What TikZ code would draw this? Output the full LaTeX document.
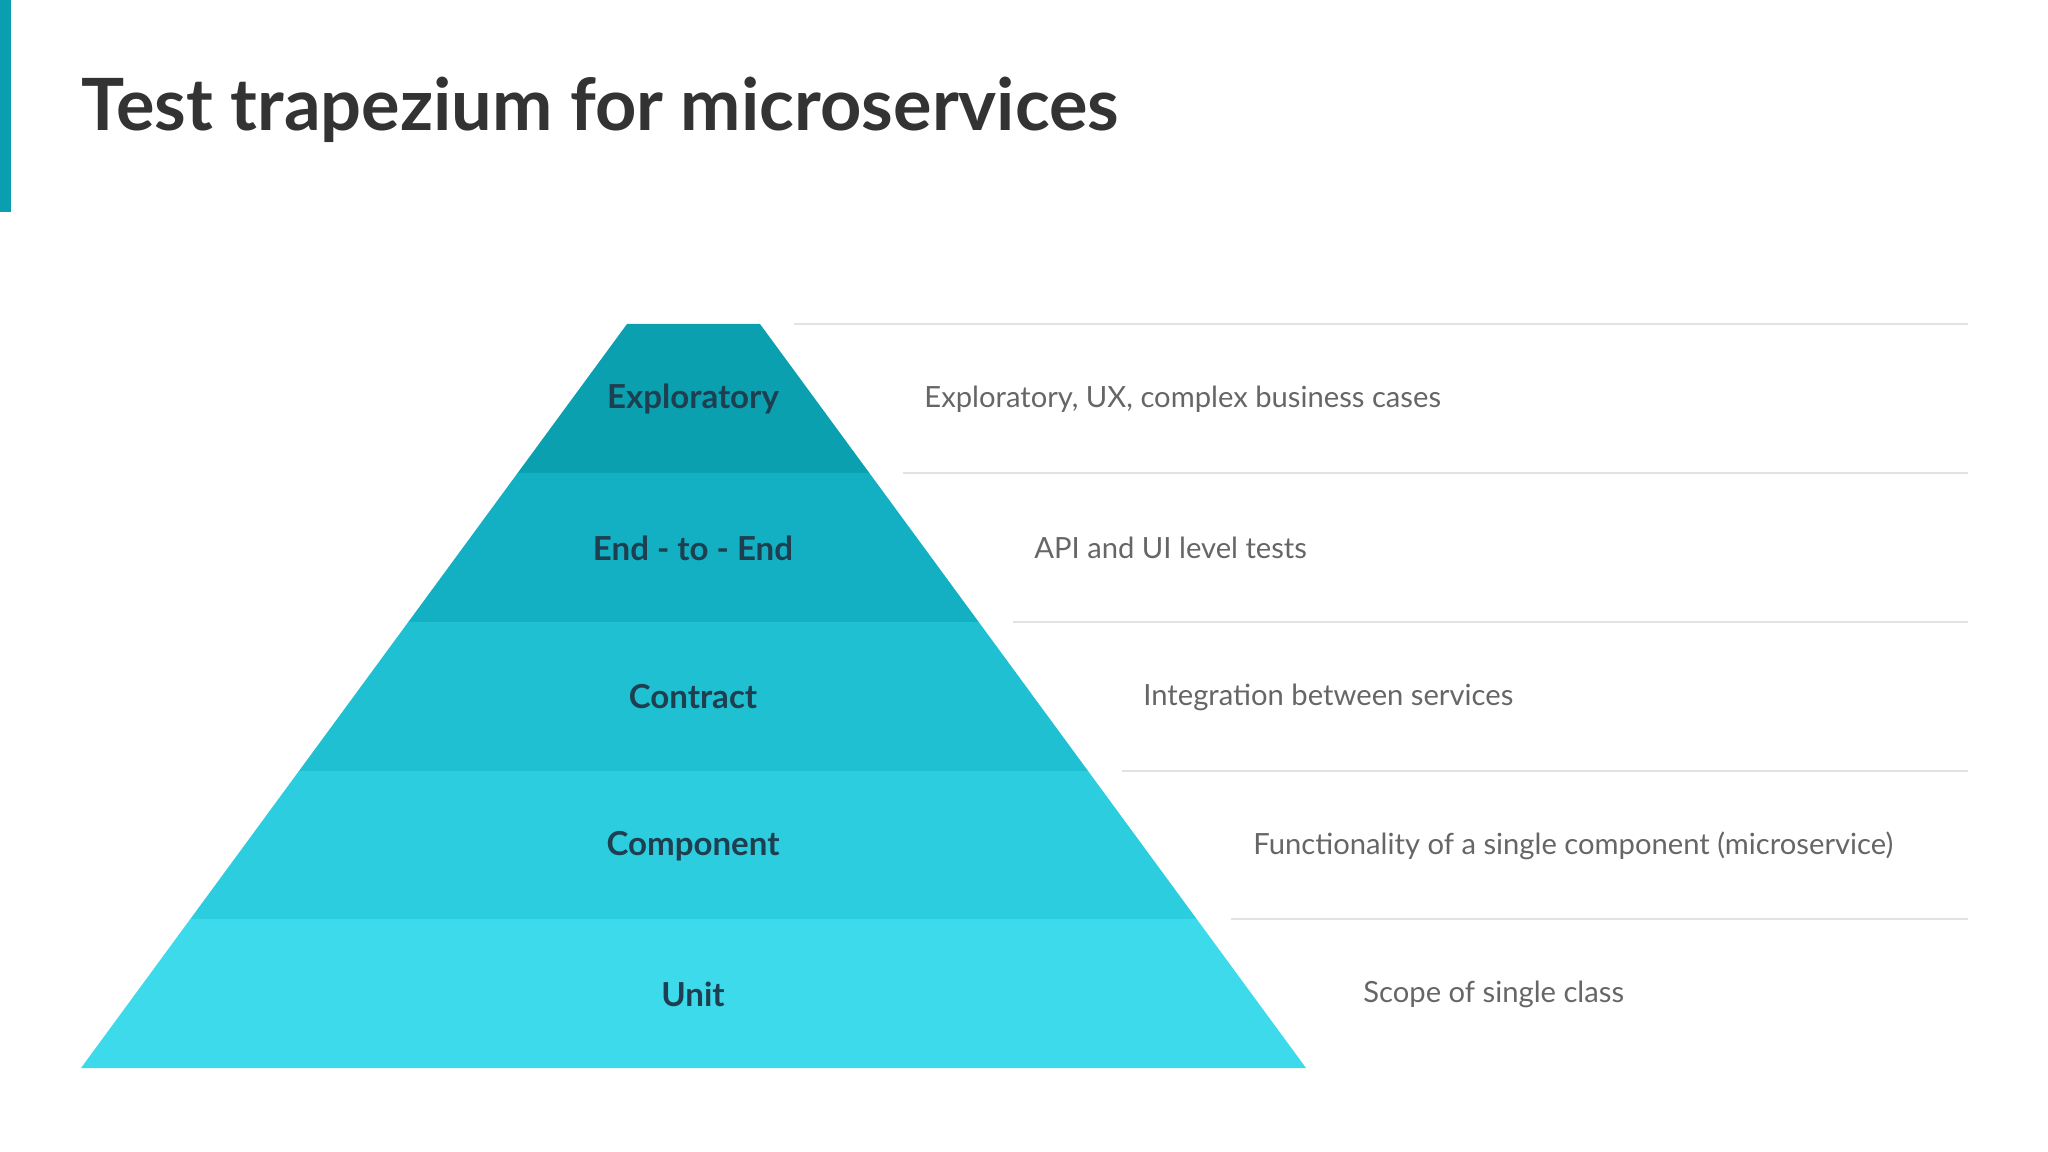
\documentclass[tikz,border=0pt]{standalone}
\usepackage{fontspec}
\setmainfont{Lato}
\definecolor{c1}{HTML}{0AA0B0}
\definecolor{c2}{HTML}{12B0C2}
\definecolor{c3}{HTML}{1FC0D2}
\definecolor{c4}{HTML}{2DCDE0}
\definecolor{c5}{HTML}{3DDAEB}
\definecolor{lbl}{HTML}{1E3F4F}
\definecolor{desc}{HTML}{666666}
\definecolor{ttl}{HTML}{333333}
\definecolor{rule}{HTML}{E2E2E2}
\definecolor{bar}{HTML}{0A9FB0}
\begin{document}
\begin{tikzpicture}[x=0.01cm,y=-0.01cm,
  lblst/.style={font=\fontsize{9.4pt}{11pt}\selectfont\bfseries,text=lbl},
  descst/.style={font=\fontsize{8.3pt}{10pt}\selectfont,text=desc,anchor=west},
  rulest/.style={draw=rule,line width=0.4pt}]
\useasboundingbox (0,0) rectangle (2048,1152);
\fill[bar] (0,0) rectangle (11,212);
\node[anchor=base west,inner sep=0,font=\fontsize{20.5pt}{24pt}\selectfont\bfseries,text=ttl] (title) at (81,131) {Test trapezium for microservices};
\foreach \ya/\yb/\c in {324/473/c1,473/622/c2,622/771/c3,771/919/c4,919/1068/c5}{
  \pgfmathsetmacro\la{627-(\ya-324)*0.73387}
  \pgfmathsetmacro\lb{627-(\yb-324)*0.73387}
  \pgfmathsetmacro\ra{760+(\ya-324)*0.73387}
  \pgfmathsetmacro\rb{760+(\yb-324)*0.73387}
  \fill[\c] (\la,\ya) -- (\ra,\ya) -- (\rb,\yb) -- (\lb,\yb) -- cycle;
  \draw[rulest] (\ra+34,\ya) -- (1968,\ya);
}
\node[lblst] (l1) at (693,399) {Exploratory};
\node[lblst] (l2) at (693,548) {End - to - End};
\node[lblst] (l3) at (693,697) {Contract};
\node[lblst] (l4) at (693,846) {Component};
\node[lblst] (l5) at (693,994) {Unit};
\node[descst] (d1) at (912,399) {Exploratory, UX, complex business cases};
\node[descst] (d2) at (1022,548) {API and UI level tests};
\node[descst] (d3) at (1131,697) {Integration between services};
\node[descst] (d4) at (1241,846) {Functionality of a single component (microservice)};
\node[descst] (d5) at (1351,994) {Scope of single class};
\end{tikzpicture}
\end{document}
